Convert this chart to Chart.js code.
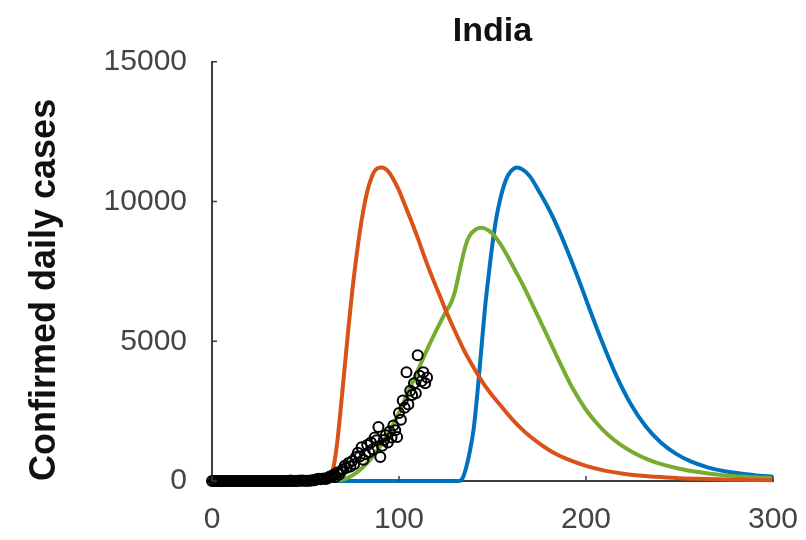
<!DOCTYPE html>
<html>
<head>
<meta charset="utf-8">
<script src="https://cdn.jsdelivr.net/npm/chart.js@4"></script>
<style>
  html, body { margin: 0; padding: 0; background: #fff; }
  #wrap { width: 806px; height: 540px; }
</style>
</head>
<body>
<div id="wrap"><canvas id="chart" width="806" height="540"></canvas></div>
<script>
// India - confirmed daily cases, observed points + three model runs

// observed daily cases, one value per day starting at day 0
const observedCases = [
  0, 0, 0, 0, 0, 0, 0, 0, 1, 0, 0, 0, 0, 0, 0, 0, 1, 0, 0, 0,
  0, 0, 0, 0, 0, 0, 0, 0, 0, 0, 0, 0, 0, 0, 0, 0, 0, 0, 0, 0,
  2, 1, 22, 2, 1, 3, 5, 9, 15, 8, 13, 6, 11, 20, 26, 23, 62, 81, 64, 77,
  90, 75, 103, 158, 140, 227, 146, 301, 235, 327,
  420, 550, 470, 640, 520, 720, 600, 860, 1010, 880,
  1210, 760, 960, 1290, 1030, 1380, 1140, 1560, 1460, 1930,
  860, 1260, 1470, 1640, 1380, 1770, 1560, 1990, 1820, 1570,
  2430, 2190, 2880, 2620, 3890, 2740, 3230, 3080, 3500, 3140,
  4500, 3770, 3570, 3890, 3500, 3700
];

// model curves (orange / green / blue)
const orangeDays  = [0, 60, 63, 65, 67, 69, 71, 73, 75, 77, 79, 81, 83, 85, 87, 89, 91, 94, 97, 100, 103, 106, 110, 114, 118, 122, 126, 130, 135, 140, 145, 150, 155, 160, 165, 170, 175, 180, 185, 190, 200, 210, 220, 230, 240, 250, 260, 275, 300];
const orangeCases = [0, 0, 100, 500, 1400, 2700, 4100, 5500, 6800, 7900, 8900, 9700, 10350, 10800, 11100, 11200, 11220, 11100, 10800, 10400, 9900, 9400, 8700, 7950, 7250, 6600, 5950, 5350, 4650, 4050, 3500, 3050, 2650, 2250, 1900, 1600, 1350, 1120, 930, 780, 540, 370, 260, 190, 140, 100, 80, 55, 30];

const greenDays  = [0, 65, 70, 75, 80, 85, 90, 95, 100, 105, 110, 115, 120, 125, 128, 130, 132, 134, 136, 138, 141, 144, 147, 150, 154, 158, 162, 166, 170, 175, 181, 187, 193, 200, 206, 211, 218, 225, 232, 238, 250, 260, 273, 285, 300];
const greenCases = [0, 0, 50, 200, 450, 800, 1250, 1800, 2450, 3200, 3950, 4700, 5400, 6050, 6400, 6800, 7400, 8000, 8500, 8800, 9000, 9060, 9000, 8850, 8500, 8050, 7550, 7050, 6500, 5800, 4950, 4100, 3300, 2550, 2050, 1700, 1320, 1030, 800, 650, 440, 320, 210, 150, 100];

const blueDays  = [0, 132, 134, 136, 138, 140, 142, 144, 146, 148, 150, 152, 154, 156, 158, 160, 163, 166, 170, 175, 180, 185, 190, 195, 200, 205, 210, 216, 224, 232, 240, 248, 256, 265, 275, 290, 300];
const blueCases = [0, 0, 100, 500, 1100, 1900, 3200, 4700, 6200, 7400, 8500, 9400, 10050, 10550, 10900, 11100, 11220, 11150, 10900, 10350, 9750, 9050, 8250, 7400, 6500, 5600, 4750, 3800, 2750, 1950, 1380, 980, 700, 490, 340, 210, 150];

const xTicks = [0, 100, 200, 300];
const yTicks = [0, 5000, 10000, 15000];

const FONT = '"Liberation Sans", Arial, Helvetica, sans-serif';
const AXIS_COLOR = '#3c3c3c';

// zip x/y arrays into points
function toPoints(xs, ys) {
  return xs.map((x, i) => ({ x: x, y: ys[i] }));
}

// MATLAB style ticks, drawn inward from the axes
const innerTicks = {
  id: 'innerTicks',
  afterDraw(chart) {
    const { ctx, scales: { x, y }, chartArea } = chart;
    ctx.save();
    ctx.strokeStyle = AXIS_COLOR;
    ctx.lineWidth = 1.5;
    ctx.beginPath();
    xTicks.forEach(v => {
      const px = x.getPixelForValue(v);
      ctx.moveTo(px, chartArea.bottom);
      ctx.lineTo(px, chartArea.bottom - 5);
    });
    yTicks.forEach(v => {
      const py = y.getPixelForValue(v);
      ctx.moveTo(chartArea.left, py);
      ctx.lineTo(chartArea.left + 5, py);
    });
    ctx.stroke();
    ctx.restore();
  }
};

const modelLine = (data, color) => ({
  type: 'line',
  data: data,
  borderColor: color,
  borderWidth: 4,
  pointRadius: 0,
  fill: false,
  cubicInterpolationMode: 'monotone',
  clip: false
});

new Chart(document.getElementById('chart'), {
  type: 'scatter',
  data: {
    datasets: [
      {
        type: 'scatter',
        data: toPoints(observedCases.map((_, i) => i), observedCases),
        pointStyle: 'circle',
        pointRadius: 5,
        borderWidth: 2,
        borderColor: '#000',
        backgroundColor: 'rgba(0,0,0,0)',
        clip: false
      },
      modelLine(toPoints(orangeDays, orangeCases), '#D95319'),
      modelLine(toPoints(greenDays, greenCases), '#77AC30'),
      modelLine(toPoints(blueDays, blueCases), '#0072BD')
    ]
  },
  options: {
    responsive: false,
    animation: false,
    layout: { padding: { left: 0, right: 33, top: 0, bottom: 0 } },
    plugins: {
      legend: { display: false },
      tooltip: { enabled: false },
      title: {
        display: true,
        text: 'India',
        fullSize: false,
        color: '#111',
        font: { family: FONT, size: 34, weight: 'bold' },
        padding: { top: 11, bottom: 10 }
      }
    },
    scales: {
      x: {
        type: 'linear',
        min: 0,
        max: 300,
        afterBuildTicks: s => { s.ticks = xTicks.map(v => ({ value: v })); },
        afterFit: s => {
          s.height = 59;
          // let the layout padding alone decide the plot's right edge
          s.paddingLeft = 0;
          s.paddingRight = 0;
        },
        grid: { display: false, drawTicks: false },
        border: { display: true, color: AXIS_COLOR, width: 2 },
        ticks: {
          color: '#444',
          padding: 21,
          maxRotation: 0,
          font: { family: FONT, size: 30 }
        }
      },
      y: {
        type: 'linear',
        min: 0,
        max: 15000,
        afterBuildTicks: s => { s.ticks = yTicks.map(v => ({ value: v })); },
        afterFit: s => { s.width = 212; },
        grid: { display: false, drawTicks: false },
        border: { display: true, color: AXIS_COLOR, width: 2 },
        ticks: {
          color: '#444',
          padding: 25,
          font: { family: FONT, size: 30 },
          callback: v => String(v)
        },
        title: {
          display: true,
          text: 'Confirmed daily cases',
          align: 'start',
          color: '#111',
          font: { family: FONT, size: 36, weight: 'bold' },
          padding: { top: 23, bottom: 0 }
        }
      }
    }
  },
  plugins: [innerTicks]
});
</script>
</body>
</html>
